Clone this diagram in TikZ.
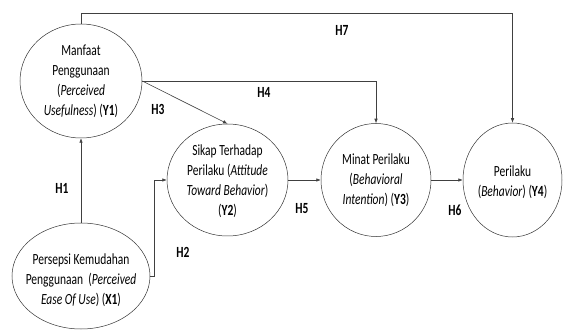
\documentclass[tikz,border=0pt]{standalone}
\usepackage{fontspec}
\setmainfont[FakeStretch=0.74]{Carlito}
\usetikzlibrary{arrows.meta,shapes.geometric}
\begin{document}
	\begin{tikzpicture}[x=1pt,y=-1pt,
		var/.style={draw=black!80,line width=0.5pt,ellipse,inner sep=0pt},
		txt/.style={align=center,inner sep=0pt,font=\fontsize{15.5}{20}\selectfont},
		hyp/.style={inner sep=0pt,font=\fontsize{15.5}{20}\selectfont\bfseries},
		link/.style={draw=black!75,line width=0.6pt,-{Latex[length=4.5pt,width=3.5pt]}}]
		\useasboundingbox (0,0) rectangle (565,331);
		\coordinate (top) at (0,13);
		\node[var,minimum width=122pt,minimum height=114pt] (Y1) at (81,81) {};
		\node[var,minimum width=138pt,minimum height=106pt] (X1) at (81,276) {};
		\node[var,minimum width=121pt,minimum height=112pt] (Y2) at (227.5,180) {};
		\node[var,minimum width=110pt,minimum height=113pt] (Y3) at (376,180) {};
		\node[var,minimum width=99pt,minimum height=114pt] (Y4) at (512.5,180) {};
		\node[txt] (Y1t) at (81,81) {Manfaat\\Penggunaan\\(\textit{Perceived}\\\textit{Usefulness}) (\textbf{Y1})};
		\node[txt] (X1t) at (81,280) {Persepsi Kemudahan\\Penggunaan~ (\textit{Perceived}\\\textit{Ease Of Use}) (\textbf{X1})};
		\node[txt] (Y2t) at (227.5,181) {Sikap Terhadap\\Perilaku (\textit{Attitude}\\\textit{Toward Behavior})\\(\textbf{Y2})};
		\node[txt] (Y3t) at (376,180) {Minat Perilaku\\(\textit{Behavioral}\\\textit{Intention}) (\textbf{Y3})};
		\node[txt] (Y4t) at (512.5,182) {Perilaku\\(\textit{Behavior}) (\textbf{Y4})};
		\draw[link] (X1.north) -- (Y1.south);
		\draw[link] (Y1.east) -- (Y2.north);
		\draw[link] (Y1.east) -| (Y3.north);
		\draw[link] (Y1.north) -- (Y1.north |- top) -| (Y4.north);
		\draw[link] (X1.east) -- ++(4,0) |- (Y2.west);
		\draw[link] (Y2.east) -- (Y3.west);
		\draw[link] (Y3.east) -- (Y4.west);
		\node[hyp] (H1) at (62,188) {H1};
		\node[hyp] (H2) at (183,252) {H2};
		\node[hyp] (H3) at (158,109) {H3};
		\node[hyp] (H4) at (264,92) {H4};
		\node[hyp] (H5) at (302,209) {H5};
		\node[hyp] (H6) at (455,210) {H6};
		\node[hyp] (H7) at (342,30) {H7};
	\end{tikzpicture}
\end{document}
